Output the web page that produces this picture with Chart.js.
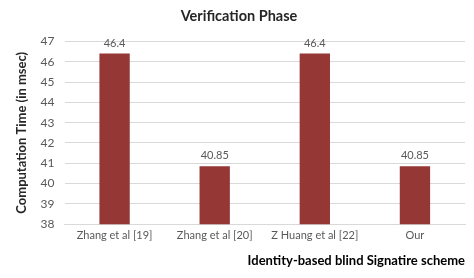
<!DOCTYPE html>
<html>
<head>
<meta charset="utf-8">
<script src="https://cdn.jsdelivr.net/npm/chart.js@4/dist/chart.umd.min.js"></script>
<style>
  html, body { margin: 0; padding: 0; background: #fff; }
  #wrap { width: 474px; height: 278px; }
</style>
</head>
<body>
<div id="wrap"><canvas id="verifChart"></canvas></div>
<script>
  const categories = ["Zhang et al [19]", "Zhang et al [20]", "Z Huang et al [22]", "Our"];
  const computationTime = [46.4, 40.85, 46.4, 40.85];
  const yTicks = [38, 39, 40, 41, 42, 43, 44, 45, 46, 47];

  const FONT = "Lato, 'Open Sans', sans-serif";

  // value labels above the bars
  const barLabels = {
    id: 'barLabels',
    afterDatasetsDraw(chart) {
      const ctx = chart.ctx;
      const meta = chart.getDatasetMeta(0);
      ctx.save();
      ctx.font = "11px " + FONT;
      ctx.fillStyle = "#595959";
      ctx.textAlign = "center";
      ctx.textBaseline = "bottom";
      meta.data.forEach((bar, i) => {
        ctx.fillText(String(computationTime[i]), bar.x, bar.y - 5);
      });
      ctx.restore();
    }
  };

  new Chart(document.getElementById("verifChart"), {
    type: 'bar',
    data: {
      labels: categories,
      datasets: [{
        label: 'Computation Time',
        backgroundColor: "#953735",
        data: computationTime,
        categoryPercentage: 1.0,
        barPercentage: 0.303
      }]
    },
    options: {
      responsive: true,
      maintainAspectRatio: false,
      animation: false,
      layout: { padding: { left: 13, right: 9, top: 4, bottom: 9 } },
      scales: {
        y: {
          min: 38,
          max: 47,
          afterBuildTicks: (axis) => { axis.ticks = yTicks.map(v => ({ value: v })); },
          grid: { color: "#d9d9d9", drawTicks: false },
          border: { display: false },
          ticks: { color: "#595959", font: { family: FONT, size: 12 }, padding: 10 },
          title: {
            display: true,
            text: "Computation Time (in msec)",
            color: "#262626",
            font: { family: FONT, size: 13, weight: 'bold' },
            padding: { top: 1, bottom: 1 }
          }
        },
        x: {
          grid: { display: false, drawTicks: false },
          border: { color: "#d9d9d9" },
          ticks: { color: "#595959", font: { family: FONT, size: 11 }, padding: 4.5, maxRotation: 0 },
          title: {
            display: true,
            text: "Identity-based blind Signatire scheme",
            align: 'end',
            color: "#000",
            font: { family: FONT, size: 13, weight: 'bold' },
            padding: { top: 7, bottom: 0 }
          }
        }
      },
      plugins: {
        legend: { display: false },
        tooltip: { enabled: false },
        title: {
          display: true,
          text: "Verification Phase",
          color: "#262626",
          font: { family: FONT, size: 14.5, weight: 'bold' },
          padding: { top: 4, bottom: 16 }
        }
      }
    },
    plugins: [barLabels]
  });
</script>
</body>
</html>
